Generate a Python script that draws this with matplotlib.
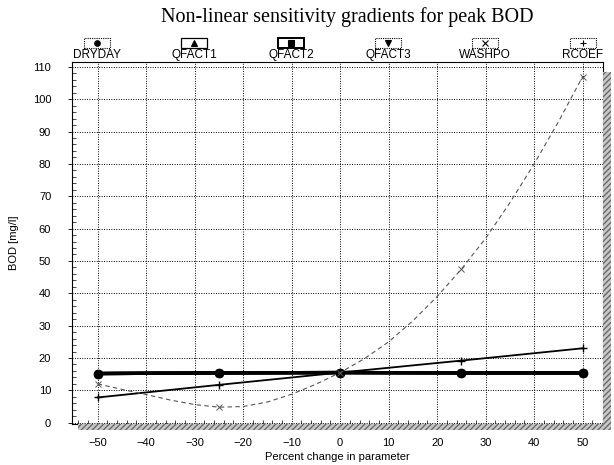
import matplotlib
matplotlib.use("Agg")
import matplotlib.pyplot as plt
from matplotlib.patches import Rectangle
from matplotlib.lines import Line2D
import numpy as np

# ---- data ----
pct = [-50, -25, 0, 25, 50]
dryday = [15.2, 15.4, 15.5, 15.4, 15.4]
qfact1 = [15.2, 15.4, 15.5, 15.4, 15.4]
qfact2 = [15.2, 15.4, 15.5, 15.4, 15.4]
qfact3 = [15.2, 15.4, 15.5, 15.4, 15.4]
rcoef = [7.8, 11.7, 15.5, 19.2, 23.0]
washpo_x = [-50, -45, -40, -35, -30, -25, -20, -15, -10, -5, 0, 5, 10, 15, 20, 25, 30, 35, 40, 45, 50]
washpo_y = [12.0, 10.3, 8.7, 7.0, 5.6, 4.8, 5.0, 6.4, 8.8, 11.9, 15.5, 19.8, 25.0, 31.5, 39.0, 47.5, 57.0, 68.0, 80.0, 93.0, 107.0]
washpo_marks = [0, 5, 10, 15, 20]
legend_names = ["DRYDAY", "QFACT1", "QFACT2", "QFACT3", "WASHPO", "RCOEF"]
legend_markers = ["o", "^", "s", "v", "x", "+"]
xticks = list(range(-50, 51, 10))
yticks = list(range(0, 111, 10))

W, H = 614, 465
fig = plt.figure(figsize=(W / 100, H / 100), dpi=100)
plt.rcParams['font.family'] = ['Liberation Sans', 'DejaVu Sans']

L, R, T, B = 72, 603, 62, 424
ax = fig.add_axes([L / W, 1 - B / H, (R - L) / W, (B - T) / H])
ax.set_xlim(-55.3, 54.2)
ax.set_ylim(-0.4, 111.5)

# shadow bands
fig.patches.append(Rectangle((R / W, 1 - (B + 6) / H), 8 / W, (B - T - 4) / H,
                             transform=fig.transFigure, facecolor="#c8c8c8",
                             edgecolor="#6a6a6a", hatch="//////", lw=0, zorder=0))
fig.patches.append(Rectangle(((L + 6) / W, 1 - (B + 6) / H), (R - L + 2) / W, 6 / H,
                             transform=fig.transFigure, facecolor="#c8c8c8",
                             edgecolor="#6a6a6a", hatch="//////", lw=0, zorder=0))

ax.set_xticks(xticks)
ax.set_yticks(yticks)
ax.set_xticks(np.arange(-54, 54, 2), minor=True)
ax.set_yticks(np.arange(0, 111, 2), minor=True)
ax.grid(True, which="major", color="black", linestyle=(0, (1, 1.5)), linewidth=0.7)
ax.tick_params(which="major", direction="out", length=3, width=0.6, labelsize=8, pad=12)
ax.tick_params(axis="x", which="major", pad=7)
ax.tick_params(which="minor", direction="in", length=3, width=0.5)
for s in ax.spines.values():
    s.set_linewidth(0.8)

# series
kw = dict(color="black")
ax.plot(pct, qfact1, marker="^", ms=4, lw=2.4, **kw)
ax.plot(pct, qfact2, marker="s", ms=4, lw=2.4, **kw)
ax.plot(pct, qfact3, marker="v", ms=4, lw=2.4, **kw)
ax.plot(pct, dryday, marker="o", ms=6, lw=2.4, **kw)
ax.plot(pct, rcoef, marker="+", ms=6, mew=1.0, lw=1.3, **kw)
ax.plot(washpo_x, washpo_y, marker="x", markevery=washpo_marks, ms=5, mew=0.7,
        lw=0.8, ls=(0, (4, 3)), color="#555555")

ax.set_xlabel("Percent change in parameter", fontsize=8, labelpad=3)
ax.set_ylabel("BOD [mg/l]", fontsize=8, labelpad=10)

fig.text(0.565, 1 - 17 / H, "Non-linear sensitivity gradients for peak BOD",
         ha="center", va="center", fontsize=14.5, family="Liberation Serif")

# manual legend
centers = [97, 194, 291, 388, 485, 583]
box_styles = [(0, (1, 1)), "-", "-", (0, (1, 1)), (0, (1, 1)), (0, (1, 1))]
box_lw = [0.8, 0.9, 1.4, 0.8, 0.8, 0.8]
for cx, name, mk, ls, lw in zip(centers, legend_names, legend_markers, box_styles, box_lw):
    bw, bh = 26, 10
    fig.patches.append(Rectangle(((cx - bw / 2) / W, 1 - 48 / H), bw / W, bh / H,
                                 transform=fig.transFigure, fill=False,
                                 edgecolor="black", lw=lw, linestyle=ls))
    fig.lines.append(Line2D([cx / W], [1 - 43 / H], transform=fig.transFigure,
                            marker=mk, ms=4, color="black", mew=0.8))
    fig.text(cx / W, 1 - 55 / H, name, ha="center", va="center", fontsize=8.5)

fig.savefig("out.png", dpi=100)
